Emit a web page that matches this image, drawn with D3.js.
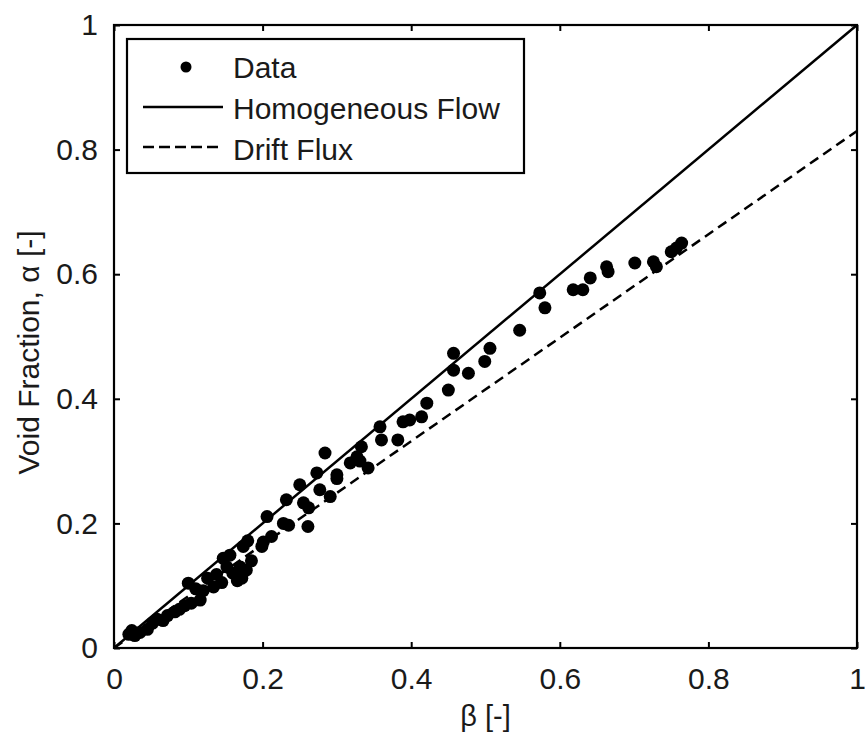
<!DOCTYPE html>
<html>
<head>
<meta charset="utf-8">
<script src="https://cdn.jsdelivr.net/npm/d3@7"></script>
<style>
  body { margin: 0; background: #fff; }
  text { font-family: "Liberation Sans", Arial, sans-serif; }
</style>
</head>
<body>
<div id="chart"></div>
<script>
// measured points: beta (x) vs void fraction alpha (y)
var dataBeta = [0.020, 0.024, 0.028, 0.035, 0.045, 0.052, 0.058, 0.066, 0.072, 0.082,
                0.088, 0.095, 0.100, 0.104, 0.110, 0.116, 0.120, 0.126, 0.134, 0.138,
                0.145, 0.147, 0.152, 0.156, 0.160, 0.166, 0.170, 0.172, 0.174, 0.178,
                0.180, 0.185, 0.199, 0.201, 0.206, 0.212, 0.228, 0.232, 0.235, 0.250,
                0.255, 0.261, 0.262, 0.273, 0.277, 0.284, 0.291, 0.300, 0.300, 0.318,
                0.327, 0.331, 0.333, 0.342, 0.358, 0.360, 0.382, 0.389, 0.398, 0.414,
                0.421, 0.450, 0.457, 0.457, 0.477, 0.499, 0.506, 0.546, 0.573, 0.580,
                0.618, 0.631, 0.641, 0.663, 0.665, 0.701, 0.726, 0.730, 0.750, 0.757,
                0.764];
var dataAlpha = [0.022, 0.028, 0.020, 0.025, 0.030, 0.040, 0.046, 0.044, 0.052, 0.058,
                 0.062, 0.068, 0.104, 0.072, 0.095, 0.077, 0.092, 0.112, 0.098, 0.118,
                 0.105, 0.144, 0.130, 0.149, 0.120, 0.108, 0.130, 0.112, 0.163, 0.125,
                 0.172, 0.140, 0.163, 0.170, 0.211, 0.179, 0.200, 0.238, 0.197, 0.262,
                 0.233, 0.195, 0.225, 0.281, 0.254, 0.313, 0.243, 0.272, 0.278, 0.297,
                 0.307, 0.300, 0.323, 0.289, 0.355, 0.334, 0.334, 0.363, 0.366, 0.371,
                 0.393, 0.414, 0.473, 0.446, 0.441, 0.460, 0.481, 0.510, 0.570, 0.546,
                 0.575, 0.575, 0.594, 0.612, 0.604, 0.618, 0.620, 0.612, 0.636, 0.642,
                 0.650];

// model lines
var homBeta = [0, 1];
var homAlpha = [0, 1];
var driftBeta = [0, 1];
var driftAlpha = [0, 0.83];

var tickValues = [0, 0.2, 0.4, 0.6, 0.8, 1];
var tickLabels = ["0", "0.2", "0.4", "0.6", "0.8", "1"];

var W = 865, H = 738;
var pLeft = 114, pRight = 857, pTop = 25, pBottom = 648;

var svg = d3.select("#chart").append("svg")
    .attr("width", W)
    .attr("height", H);

var x = d3.scaleLinear().domain([0, 1]).range([pLeft, pRight]);
var y = d3.scaleLinear().domain([0, 1]).range([pBottom, pTop]);

var fmt = function(d) { return tickLabels[tickValues.indexOf(d)]; };

// axes, ticks inward on all four sides
function styleAxis(g) {
  g.select(".domain").remove();
  g.selectAll(".tick line").attr("stroke", "#000").attr("stroke-width", 2);
  g.selectAll(".tick text").attr("fill", "#1a1a1a").style("font-size", "30px");
}

svg.append("g")
    .attr("transform", "translate(0," + pBottom + ")")
    .call(d3.axisBottom(x).tickValues(tickValues).tickFormat(fmt).tickSizeInner(-6).tickPadding(12))
    .call(styleAxis)
    .selectAll(".tick text").attr("dy", "0.95em");

svg.append("g")
    .attr("transform", "translate(" + pLeft + ",0)")
    .call(d3.axisLeft(y).tickValues(tickValues).tickFormat(fmt).tickSizeInner(-6).tickPadding(16))
    .call(styleAxis);

svg.append("g")
    .attr("transform", "translate(0," + pTop + ")")
    .call(d3.axisTop(x).tickValues(tickValues).tickFormat("").tickSizeInner(-6))
    .call(styleAxis);

svg.append("g")
    .attr("transform", "translate(" + pRight + ",0)")
    .call(d3.axisRight(y).tickValues(tickValues).tickFormat("").tickSizeInner(-6))
    .call(styleAxis);

svg.append("rect")
    .attr("x", pLeft).attr("y", pTop)
    .attr("width", pRight - pLeft).attr("height", pBottom - pTop)
    .attr("fill", "none").attr("stroke", "#000").attr("stroke-width", 2.2);

// lines
var line = d3.line().x(function(d) { return x(d[0]); }).y(function(d) { return y(d[1]); });

svg.append("path")
    .datum(d3.zip(homBeta, homAlpha))
    .attr("d", line)
    .attr("fill", "none").attr("stroke", "#000").attr("stroke-width", 2.5);

svg.append("path")
    .datum(d3.zip(driftBeta, driftAlpha))
    .attr("d", line)
    .attr("fill", "none").attr("stroke", "#000").attr("stroke-width", 2.5)
    .attr("stroke-dasharray", "10,6");

// data markers
svg.append("g").selectAll("circle")
    .data(d3.zip(dataBeta, dataAlpha))
    .enter().append("circle")
    .attr("cx", function(d) { return x(d[0]); })
    .attr("cy", function(d) { return y(d[1]); })
    .attr("r", 6.5)
    .attr("fill", "#000");

// legend
var lg = svg.append("g");
lg.append("rect")
    .attr("x", 127).attr("y", 39).attr("width", 397).attr("height", 134)
    .attr("fill", "#fff").attr("stroke", "#000").attr("stroke-width", 2.2);

lg.append("circle").attr("cx", 186).attr("cy", 67).attr("r", 5.5).attr("fill", "#000");
lg.append("line").attr("x1", 143).attr("x2", 223).attr("y1", 107).attr("y2", 107)
    .attr("stroke", "#000").attr("stroke-width", 2.5);
lg.append("line").attr("x1", 143).attr("x2", 223).attr("y1", 147).attr("y2", 147)
    .attr("stroke", "#000").attr("stroke-width", 2.5).attr("stroke-dasharray", "11,5");

var legendNames = ["Data", "Homogeneous Flow", "Drift Flux"];
lg.selectAll("text.lbl")
    .data(legendNames)
    .enter().append("text")
    .attr("class", "lbl")
    .attr("x", 233)
    .attr("y", function(d, i) { return 78 + i * 41; })
    .attr("fill", "#1a1a1a")
    .style("font-size", "30px")
    .text(function(d) { return d; });

// axis titles
svg.append("text")
    .attr("x", (pLeft + pRight) / 2)
    .attr("y", 726)
    .attr("text-anchor", "middle")
    .attr("fill", "#1a1a1a")
    .style("font-size", "29px")
    .text("β [-]");

svg.append("text")
    .attr("transform", "translate(39," + ((pTop + pBottom) / 2 + 16) + ") rotate(-90)")
    .attr("text-anchor", "middle")
    .attr("fill", "#1a1a1a")
    .style("font-size", "30px")
    .text("Void Fraction, α [-]");
</script>
</body>
</html>
